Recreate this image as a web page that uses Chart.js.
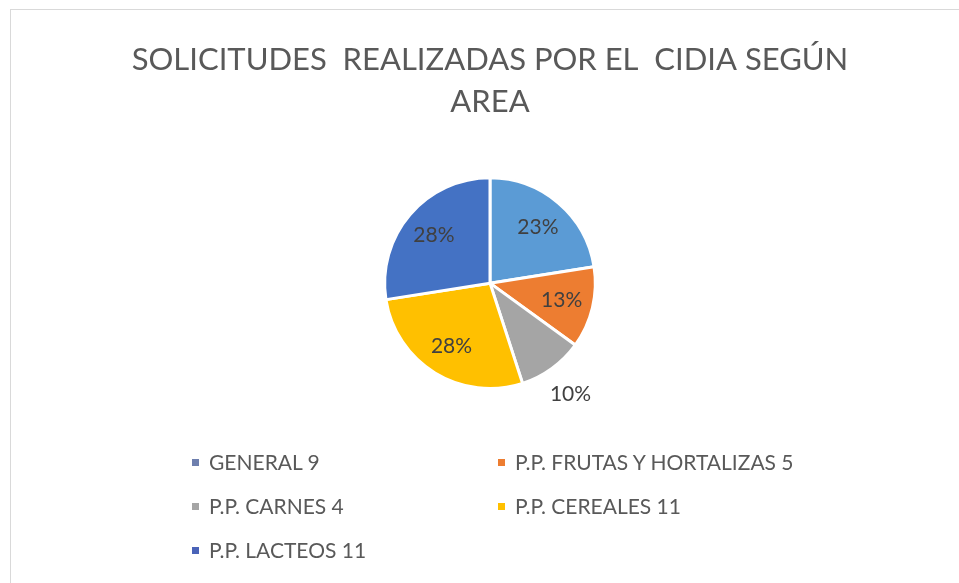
<!DOCTYPE html>
<html>
<head>
<meta charset="utf-8">
<script src="https://cdn.jsdelivr.net/npm/chart.js@4"></script>
<style>
  html, body { margin: 0; padding: 0; background: #fff; overflow: hidden; }
  #wrap { position: relative; width: 959px; height: 583px; overflow: hidden; }
  #frame { position: absolute; left: 10px; top: 9px; width: 960px; height: 590px; border: 1px solid #d9d9d9; pointer-events: none; }
  #legend { position: absolute; left: 192px; top: 446px; width: 700px;
            display: grid; grid-template-columns: 306px 360px; row-gap: 12px;
            font-family: Lato, 'Open Sans', sans-serif; font-size: 21px; color: #595959; }
  #legend .item { height: 32px; line-height: 32px; white-space: nowrap; }
  #legend .box { display: inline-block; width: 7px; height: 7px; margin-right: 10px; vertical-align: middle; position: relative; top: -2px; }
</style>
</head>
<body>
<div id="wrap">
  <canvas id="pie" width="959" height="583"></canvas>
  <div id="frame"></div>
  <div id="legend"></div>
</div>
<script>
/* data */
const categories = ['GENERAL', 'P.P. FRUTAS Y HORTALIZAS', 'P.P. CARNES', 'P.P. CEREALES', 'P.P. LACTEOS'];
const values     = [9, 5, 4, 11, 11];
const colors     = ['#5B9BD5', '#ED7D31', '#A5A5A5', '#FFC000', '#4472C4'];
const legendMarks = ['#6E7FAE', '#ED7D31', '#A5A5A5', '#FFC000', '#4A63B8'];
const chartTitle = ['SOLICITUDES  REALIZADAS POR EL  CIDIA SEGÚN', 'AREA'];

const FONT = 'Lato, "Open Sans", sans-serif';

/* ─── percentage labels, inside except the small grey slice ─── */
const pctLabels = {
  id: 'pctLabels',
  afterDatasetsDraw(chart) {
    const ctx = chart.ctx;
    const meta = chart.getDatasetMeta(0);
    const total = values.reduce((a, b) => a + b, 0);
    ctx.save();
    ctx.font = '21px ' + FONT;
    ctx.textAlign = 'center';
    ctx.textBaseline = 'middle';
    meta.data.forEach((arc, i) => {
      const mid = (arc.startAngle + arc.endAngle) / 2;
      const outside = values[i] / total <= 0.1;
      const r = arc.outerRadius * (outside ? 1.3 : 0.7);
      const x = arc.x + Math.cos(mid) * r;
      const y = arc.y + Math.sin(mid) * r;
      ctx.fillStyle = '#404040';
      ctx.fillText(Math.round(values[i] / total * 100) + '%', x, y);
    });
    ctx.restore();
  }
};

new Chart(document.getElementById('pie'), {
  type: 'pie',
  data: {
    labels: categories,
    datasets: [{ data: values, backgroundColor: colors, borderColor: '#fff', borderWidth: 3 }]
  },
  options: {
    responsive: false, animation: false,
    layout: { padding: { left: 21, right: 0, top: 0, bottom: 193 } },
    plugins: {
      legend: { display: false },
      tooltip: { enabled: false },
      title: {
        display: true, text: chartTitle, color: '#595959',
        font: { family: FONT, size: 31, weight: 'normal', lineHeight: 1.36 },
        padding: { top: 39, bottom: 53 }
      }
    }
  },
  plugins: [pctLabels]
});

/* ─── legend in two columns ─── */
const legendEl = document.getElementById('legend');
categories.forEach((c, i) => {
  const d = document.createElement('div');
  d.className = 'item';
  d.innerHTML = '<span class="box" style="background:' + legendMarks[i] + '"></span>' + c + ' ' + values[i];
  legendEl.appendChild(d);
});
</script>
</body>
</html>
